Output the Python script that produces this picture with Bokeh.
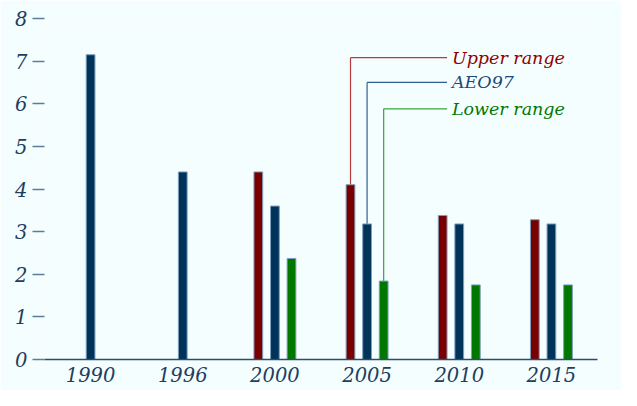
from bokeh.plotting import figure
from bokeh.models import ColumnDataSource, FactorRange, Range1d
from bokeh.transform import dodge
from bokeh.embed import file_html
from bokeh.resources import INLINE
from bokeh.core.properties import value

# ---- data ----
years = ["1990", "1996", "2000", "2005", "2010", "2015"]
upper_range = [0, 0, 4.4, 4.1, 3.38, 3.28]
aeo97 = [7.15, 4.4, 3.6, 3.18, 3.18, 3.18]
lower_range = [0, 0, 2.37, 1.84, 1.75, 1.75]
y_ticks = [0, 1, 2, 3, 4, 5, 6, 7, 8]
series_names = ["Upper range", "AEO97", "Lower range"]

BG = "#f5fefe"
FONT = "DejaVu Serif"

src = ColumnDataSource(dict(year=years, upper=upper_range, aeo=aeo97, lower=lower_range))

p = figure(
    x_range=FactorRange(factors=years, range_padding=0),
    y_range=Range1d(0, 8),
    width=621, height=390,
    output_backend="svg", toolbar_location=None,
    min_border_left=44, min_border_right=24, min_border_top=18, min_border_bottom=31,
)
p.background_fill_color = BG
p.border_fill_color = BG
p.outline_line_color = None
p.grid.visible = False

# y axis
p.yaxis.ticker = y_ticks
p.yaxis.axis_line_color = None
p.yaxis.major_tick_out = 12
p.yaxis.major_tick_in = 0
p.yaxis.minor_tick_line_color = None
p.yaxis.major_tick_line_color = "#5b7d99"
p.yaxis.major_tick_line_width = 1.5
p.yaxis.major_label_standoff = 5

# x axis
p.xaxis.axis_line_color = "#2a4d6e"
p.xaxis.axis_line_width = 1.5
p.xaxis.major_tick_out = 0
p.xaxis.major_tick_in = 0
p.xaxis.major_label_standoff = 7

for ax in (p.xaxis, p.yaxis):
    ax.major_label_text_font = FONT
    ax.major_label_text_font_style = "italic"
    ax.major_label_text_font_size = "19.5px"
    ax.major_label_text_color = "#1d3f5f"

# ---- annotation callouts (Upper range / AEO97 / Lower range) ----
i05 = years.index("2005")
callouts = [
    (series_names[0], upper_range[i05], -0.18, 7.08, "#b83a3a", "#8f0000"),
    (series_names[1], aeo97[i05], 0.0, 6.5, "#2f5f8f", "#1b4a78"),
    (series_names[2], lower_range[i05], 0.18, 5.88, "#3aa33a", "#007800"),
]
for name, top, off, level, lcol, tcol in callouts:
    s = ColumnDataSource(dict(year=["2005"], y0=[top], y1=[level], label=[name]))
    p.segment(x0=dodge("year", off, range=p.x_range), y0="y0",
              x1=dodge("year", off, range=p.x_range), y1="y1",
              source=s, line_color=lcol, line_width=1.2)
    p.segment(x0=dodge("year", off, range=p.x_range), y0="y1",
              x1=dodge("year", 0.868, range=p.x_range), y1="y1",
              source=s, line_color=lcol, line_width=1.2)
    p.text(x=dodge("year", 0.92, range=p.x_range), y="y1", text="label", source=s,
           text_font=value(FONT), text_font_style="italic", text_font_size="17.5px",
           text_color=tcol, text_baseline="middle", text_align="left")

# ---- bars ----
W = 0.095
OUT = "#7f9fbf"
p.vbar(x=dodge("year", -0.18, range=p.x_range), top="upper", width=W, source=src,
       fill_color="#7a0000", line_color=OUT, line_width=1)
p.vbar(x=dodge("year", 0.0, range=p.x_range), top="aeo", width=W, source=src,
       fill_color="#00335a", line_color=OUT, line_width=1)
p.vbar(x=dodge("year", 0.18, range=p.x_range), top="lower", width=W, source=src,
       fill_color="#007800", line_color=OUT, line_width=1)

open("out.html", "w").write(file_html(p, INLINE))
